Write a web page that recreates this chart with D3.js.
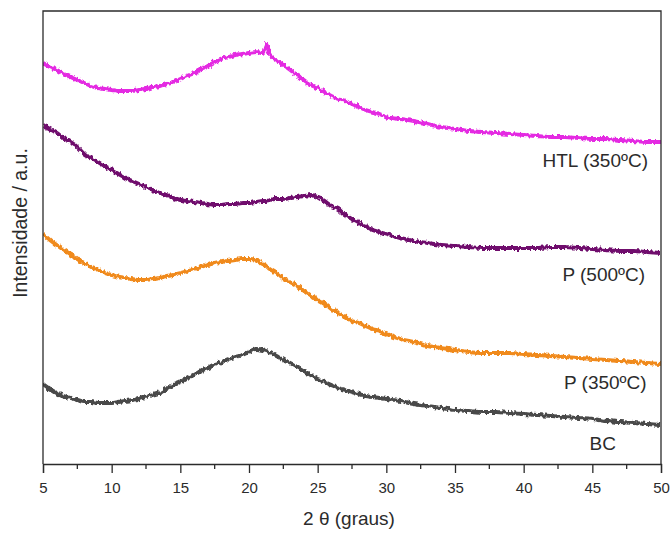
<!DOCTYPE html>
<html>
<head>
<meta charset="utf-8">
<script src="https://cdn.jsdelivr.net/npm/d3@7/dist/d3.min.js"></script>
<style>
  html, body { margin: 0; padding: 0; background: #fff; }
  svg { display: block; }
  text { font-family: "Liberation Sans", Arial, sans-serif; fill: #2b2b2b; }
</style>
</head>
<body>
<svg id="chart" width="670" height="533"></svg>
<script>
// 2θ sampling positions (degrees)
const theta = [
  5, 5.5, 6, 6.5, 7, 7.5, 8, 8.5, 9, 9.5, 10, 10.5, 11, 11.5, 12, 12.5, 13, 13.5, 14, 14.5,
  15, 15.5, 16, 16.5, 17, 17.5, 18, 18.5, 19, 19.5, 20, 20.5, 21, 21.25,
  21.5, 22, 22.5, 23, 23.5, 24, 24.5, 25, 25.5, 26, 26.5, 27, 27.5, 28, 28.5, 29, 29.5, 30,
  31, 32, 33, 34, 35, 36, 37, 38, 39, 40, 41, 42, 43, 44, 45, 46, 47, 48, 49, 50
];

// Offset intensities (a.u.) for each sample
const htl350 = [
  401, 397, 394, 390, 387, 384, 381, 378, 376, 375, 374, 373, 373, 373, 374, 375, 377, 378, 380, 382,
  385, 388, 391, 395, 398, 402, 405, 407, 409, 410, 411, 412, 411, 420,
  410, 404, 399, 394, 389, 384, 379, 376, 372, 368, 365, 363, 360, 357, 354, 352, 350, 347,
  345, 343, 340, 337, 335, 333, 332, 331, 330, 329, 328, 327, 327, 326, 325, 325, 324, 323, 322, 322
];
const p500 = [
  339, 335, 331, 326, 322, 317, 310, 306, 302, 298, 294, 290, 286, 283, 280, 277, 274, 271, 269, 266,
  264, 263, 262, 261, 260, 259, 259, 260, 260, 261, 261, 262, 263, 263,
  264, 265, 265, 266, 267, 268, 269, 267, 263, 258, 255, 249, 245, 241, 238, 234, 232, 230,
  226, 223, 221, 219, 218, 217, 216, 216, 216, 216, 216, 217, 217, 216, 215, 214, 213, 213, 212, 211
];
const p350 = [
  230, 224, 219, 214, 210, 205, 201, 197, 194, 191, 189, 187, 186, 185, 184, 184, 185, 186, 188, 189,
  191, 193, 195, 197, 199, 201, 202, 203, 204, 205, 205, 204, 200, 198,
  195, 191, 186, 182, 178, 173, 168, 164, 160, 155, 151, 147, 143, 141, 138, 135, 133, 130,
  125, 122, 118, 116, 114, 112, 111, 111, 111, 110, 109, 108, 107, 106, 105, 104, 103, 102, 101, 100
];
const bc = [
  80, 75, 71, 68, 66, 64, 62, 62, 61, 61, 61, 62, 63, 64, 65, 67, 69, 71, 75, 79,
  82, 86, 89, 93, 96, 100, 102, 105, 107, 109, 112, 115, 114, 113,
  112, 108, 104, 101, 97, 93, 89, 85, 82, 79, 76, 74, 72, 70, 68, 67, 66, 65,
  63, 60, 58, 56, 54, 53, 52, 52, 51, 50, 49, 48, 47, 46, 45, 43, 42, 41, 40, 39
];

const seriesNames = ["HTL (350ºC)", "P (500ºC)", "P (350ºC)", "BC"];
const seriesValues = [htl350, p500, p350, bc];
const seriesColors = ["#e42ae2", "#6f0f6d", "#f08a1e", "#484848"];

// Sample labels: text end point in data units (2θ, intensity)
const labelTheta = [49.05, 48.84, 48.95, 46.72];
const labelLevel = [297, 183.5, 75, 14];

const xTicks = [5, 10, 15, 20, 25, 30, 35, 40, 45, 50];
const xMinorTicks = [7.5, 12.5, 17.5, 22.5, 27.5, 32.5, 37.5, 42.5, 47.5];

const svg = d3.select("#chart");
const plot = { left: 43, right: 661, top: 11, bottom: 464 };

const x = d3.scaleLinear().domain([5, 50]).range([plot.left, plot.right]);
const y = d3.scaleLinear().domain([0, 454]).range([plot.bottom, plot.top - 1]);

// grainy texture for the measured patterns
const defs = svg.append("defs");
const f = defs.append("filter")
  .attr("id", "grain")
  .attr("filterUnits", "userSpaceOnUse")
  .attr("x", 0).attr("y", 0).attr("width", 670).attr("height", 533);
f.append("feTurbulence")
  .attr("type", "fractalNoise")
  .attr("baseFrequency", "0.35 0.18")
  .attr("numOctaves", 2)
  .attr("seed", 5)
  .attr("result", "noise");
f.append("feDisplacementMap")
  .attr("in", "SourceGraphic")
  .attr("in2", "noise")
  .attr("scale", 5)
  .attr("xChannelSelector", "R")
  .attr("yChannelSelector", "G");

const clip = defs.append("clipPath").attr("id", "plotClip");
clip.append("rect")
  .attr("x", plot.left).attr("y", plot.top)
  .attr("width", plot.right - plot.left).attr("height", plot.bottom - plot.top);

const line = d3.line()
  .x((d, i) => x(theta[i]))
  .y(d => y(d))
  .curve(d3.curveMonotoneX);

const curves = svg.append("g").attr("clip-path", "url(#plotClip)")
  .append("g").attr("filter", "url(#grain)");

curves.selectAll("path")
  .data(seriesValues)
  .join("path")
  .attr("d", d => line(d))
  .attr("fill", "none")
  .attr("stroke", (d, i) => seriesColors[i])
  .attr("stroke-width", 3.9)
  .attr("stroke-linejoin", "round");

// frame
svg.append("path")
  .attr("d", `M${plot.left},${plot.bottom}V${plot.top}H${plot.right}V${plot.bottom}`)
  .attr("fill", "none")
  .attr("stroke", "#2b2b2b")
  .attr("stroke-width", 1.3);

// x axis with major and minor ticks
const xAxis = svg.append("g")
  .attr("transform", `translate(0,${plot.bottom})`)
  .call(d3.axisBottom(x).tickValues(xTicks).tickFormat(d3.format("d")).tickSize(9).tickPadding(9));
xAxis.select(".domain").attr("stroke", "#2b2b2b").attr("stroke-width", 1.3);
xAxis.selectAll(".tick line").attr("stroke", "#2b2b2b").attr("stroke-width", 1.3);
xAxis.selectAll(".tick text")
  .attr("font-family", "'Liberation Sans', Arial, sans-serif")
  .attr("font-size", 15)
  .attr("fill", "#2b2b2b");

svg.append("g")
  .attr("transform", `translate(0,${plot.bottom})`)
  .selectAll("line")
  .data(xMinorTicks)
  .join("line")
  .attr("x1", d => x(d)).attr("x2", d => x(d))
  .attr("y1", 0).attr("y2", 5)
  .attr("stroke", "#2b2b2b").attr("stroke-width", 1.3);

// axis titles
svg.append("text")
  .attr("x", (plot.left + plot.right) / 2 - 3)
  .attr("y", 525)
  .attr("text-anchor", "middle")
  .attr("font-size", 19)
  .text("2 θ (graus)");

svg.append("text")
  .attr("transform", "translate(27,223) rotate(-90)")
  .attr("text-anchor", "middle")
  .attr("font-size", 19.5)
  .text("Intensidade / a.u.");

// sample labels
svg.append("g").selectAll("text")
  .data(seriesNames)
  .join("text")
  .attr("x", (d, i) => x(labelTheta[i]))
  .attr("y", (d, i) => y(labelLevel[i]))
  .attr("text-anchor", "end")
  .attr("font-size", 19)
  .text(d => d);
</script>
</body>
</html>
